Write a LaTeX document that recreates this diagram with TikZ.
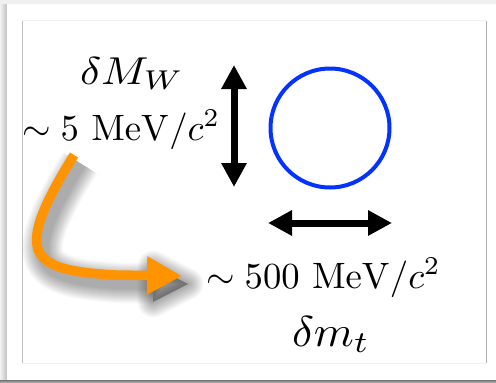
\documentclass[tikz,border=0pt]{standalone}
\usepackage{graphicx}
\usetikzlibrary{arrows.meta}
\definecolor{kblue}{RGB}{4,51,255}
\definecolor{korange}{RGB}{255,147,0}
\begin{document}
\begin{tikzpicture}[x=1pt,y=-1pt,
  lbl/.style={inner sep=0pt, outer sep=0pt, anchor=base west},
  bigarrow/.style={line width=7pt, {Triangle[length=24pt,width=24pt]}-{Triangle[length=24pt,width=24pt]}},
  orangepath/.style={line width=9.5pt, korange},
]
\useasboundingbox (0,0) rectangle (496,383);
% page background and card
\fill[black!6] (0,0) rectangle (496,383);
\shade[left color=black!5, right color=black!25] (0,4) rectangle (7,380);
\fill[black!55] (0,380) rectangle (496,381);
\fill[black!45] (0,381) rectangle (496,382);
\fill[black!35] (0,382) rectangle (496,383);
\fill[white] (7,4) rectangle (496,380);
% inner frame
\draw[black!25, line width=0.8pt] (22,20.5) -- (22,363);
\draw[black!6, line width=0.8pt] (22,20.5) -- (486,20.5);
\draw[black!6, line width=0.8pt] (22,363) -- (486,363);
\draw[black!32, line width=1pt] (486,20.5) -- (486,363);

% labels
\node[lbl] (dMW) at (80,84) {\resizebox{104pt}{27pt}{$\delta M_W$}};
\node[lbl] (sig5) at (22,140) {\scalebox{3.67}{$\sim 5\ \mathrm{MeV}/c^2$}};
\node[lbl] (sig500) at (206,288) {\scalebox{3.67}{$\sim 500\ \mathrm{MeV}/c^2$}};
\node[lbl] (dmt) at (292,346) {\resizebox{78pt}{30pt}{$\delta m_t$}};

% circle
\node[circle, draw=kblue, line width=4pt, minimum size=119pt, inner sep=0pt] (circ) at (330,128) {};

% black double arrows
\coordinate (vt) at (234,65);
\coordinate (vb) at (234,187);
\draw[bigarrow] (vt) -- (vb);
\coordinate (hl) at (268,223);
\coordinate (hr) at (392,223);
\draw[bigarrow] (hl) -- (hr);

% orange arrow with soft shadow
\coordinate (oa) at (74,155);
\coordinate (ob) at (182,276);
\begin{scope}[shift={(6,8)}]
  \foreach \w in {3,5,...,31} {
    \draw[black, opacity=0.024, line width={(9.5+\w)*1pt}, line join=round]
      (74,155) .. controls (12,255) and (28,270) .. (115,275) -- (147,275.5);
    \filldraw[black, opacity=0.024, line width={\w*1pt}, line join=round]
      (147,258) -- (182,276) -- (147,294) -- cycle;
  }
\end{scope}
\draw[orangepath, -{Triangle[length=35pt,width=36pt]}]
  (oa) .. controls (12,255) and (28,270) .. (115,275) -- (ob);
\end{tikzpicture}
\end{document}
